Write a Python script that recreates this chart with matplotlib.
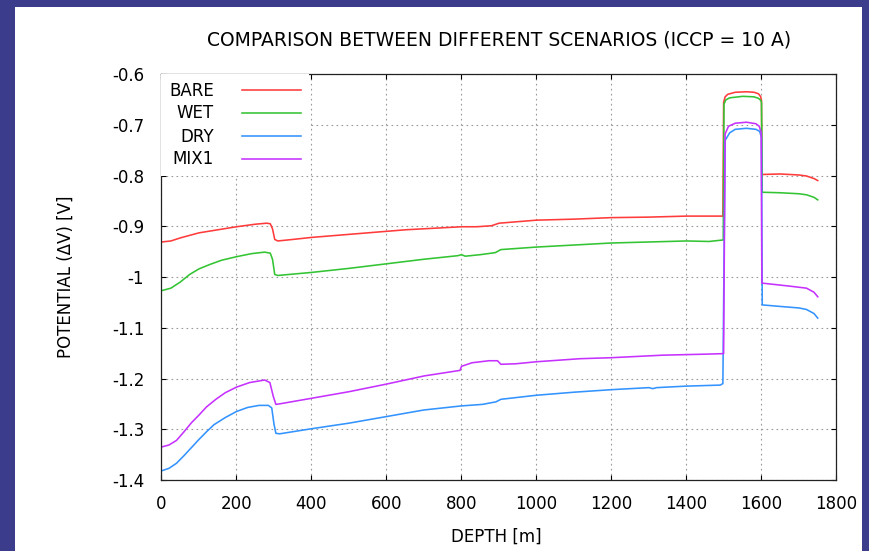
#!/usr/bin/env python3

import matplotlib
matplotlib.use("Agg")
import matplotlib.pyplot as plt
from matplotlib.patches import Rectangle
from matplotlib.ticker import FuncFormatter, MultipleLocator

# potential profiles along the well, one depth/potential pair per scenario
bare_depth = [0, 25, 50, 100, 150, 200, 250, 280, 290, 296, 302, 310, 350, 400,
              450, 500, 550, 600, 650, 700, 750, 800, 840, 880, 900, 950, 1000,
              1100, 1200, 1300, 1400, 1497, 1499, 1503, 1510, 1530, 1560, 1580,
              1592, 1598, 1600, 1601, 1650, 1700, 1720, 1740, 1750]
bare_pot = [-0.931, -0.929, -0.923, -0.913, -0.907, -0.901, -0.896, -0.894,
            -0.895, -0.905, -0.926, -0.929, -0.926, -0.922, -0.919, -0.916,
            -0.913, -0.910, -0.907, -0.905, -0.903, -0.901, -0.901, -0.899,
            -0.894, -0.891, -0.888, -0.886, -0.883, -0.882, -0.880, -0.880,
            -0.656, -0.645, -0.640, -0.636, -0.635, -0.636, -0.639, -0.645,
            -0.653, -0.798, -0.797, -0.799, -0.801, -0.806, -0.810]

wet_depth = [0, 25, 50, 75, 100, 130, 160, 200, 240, 275, 290, 296, 302, 310,
             400, 500, 600, 700, 790, 800, 810, 850, 890, 905, 1000, 1100, 1200,
             1300, 1400, 1460, 1498, 1500, 1505, 1515, 1550, 1580, 1592, 1598,
             1600, 1602, 1650, 1700, 1720, 1740, 1750]
wet_pot = [-1.027, -1.022, -1.010, -0.995, -0.984, -0.975, -0.967, -0.960,
           -0.954, -0.951, -0.953, -0.965, -0.995, -0.997, -0.991, -0.983,
           -0.974, -0.965, -0.958, -0.956, -0.959, -0.956, -0.952, -0.946,
           -0.941, -0.937, -0.933, -0.931, -0.929, -0.930, -0.927, -0.659,
           -0.651, -0.647, -0.644, -0.645, -0.648, -0.652, -0.656, -0.833,
           -0.834, -0.836, -0.838, -0.843, -0.848]

dry_depth = [0, 20, 40, 60, 80, 100, 120, 140, 170, 200, 230, 260, 285, 294,
             300, 305, 315, 400, 500, 600, 700, 800, 856, 892, 905, 1000, 1100,
             1200, 1300, 1310, 1320, 1400, 1490, 1497, 1503, 1515, 1530, 1560,
             1585, 1595, 1600, 1602, 1650, 1700, 1720, 1740, 1750]
dry_pot = [-1.382, -1.377, -1.367, -1.352, -1.336, -1.320, -1.305, -1.291,
           -1.277, -1.265, -1.257, -1.253, -1.253, -1.258, -1.290, -1.308,
           -1.309, -1.299, -1.288, -1.275, -1.262, -1.254, -1.251, -1.246,
           -1.241, -1.233, -1.227, -1.222, -1.218, -1.220, -1.218, -1.215,
           -1.213, -1.210, -0.731, -0.716, -0.709, -0.707, -0.709, -0.713,
           -0.725, -1.055, -1.058, -1.061, -1.064, -1.072, -1.081]

mix1_depth = [0, 20, 40, 60, 80, 100, 120, 145, 170, 200, 235, 275, 289, 298,
              305, 315, 400, 500, 600, 700, 796, 800, 828, 873, 896, 905, 945,
              1000, 1116, 1200, 1338, 1453, 1499, 1503, 1512, 1530, 1560, 1585,
              1594, 1599, 1601, 1675, 1720, 1740, 1750]
mix1_pot = [-1.335, -1.331, -1.322, -1.305, -1.287, -1.272, -1.256, -1.241,
            -1.228, -1.217, -1.208, -1.203, -1.208, -1.235, -1.251, -1.250,
            -1.239, -1.226, -1.211, -1.195, -1.184, -1.176, -1.169, -1.165,
            -1.165, -1.172, -1.171, -1.167, -1.161, -1.159, -1.154, -1.152,
            -1.151, -0.718, -0.703, -0.697, -0.695, -0.698, -0.703, -0.715,
            -1.012, -1.018, -1.022, -1.030, -1.039]

series = [
    ("BARE", bare_depth, bare_pot, "#ff3b3b"),
    ("WET", wet_depth, wet_pot, "#33c433"),
    ("DRY", dry_depth, dry_pot, "#3393ff"),
    ("MIX1", mix1_depth, mix1_pot, "#c631ff"),
]

slide_color = "#3c3c8c"
grid_color = "#9a9a9a"


def build_graph(output_file):
    plt.rcParams["font.family"] = ["DejaVu Sans"]
    fontsize = 12

    fig = plt.figure(figsize=(8.7, 5.51), dpi=100, facecolor=slide_color)
    # white slide panel behind the plot
    fig.patches.append(Rectangle((15 / 870, 0), 847 / 870, 1 - 7 / 551,
                                 transform=fig.transFigure, facecolor="white",
                                 edgecolor="none", zorder=-10))

    ax = fig.add_axes([161.5 / 870, 1 - 480 / 551, 675 / 870, 406 / 551])

    for name, depth, pot, color in series:
        ax.plot(depth, pot, color=color, linewidth=1.15, label=name)

    ax.set_xlim(0, 1800)
    ax.set_ylim(-1.4, -0.6)
    ax.xaxis.set_major_locator(MultipleLocator(200))
    ax.yaxis.set_major_locator(MultipleLocator(0.1))
    ax.xaxis.set_major_formatter(FuncFormatter(lambda v, _: "%g" % round(v, 2)))
    ax.yaxis.set_major_formatter(FuncFormatter(lambda v, _: "%g" % round(v, 2)))

    ax.tick_params(direction="in", top=True, right=True, length=3.6,
                   width=0.8, labelsize=fontsize)
    ax.tick_params(axis="y", pad=12.5)
    ax.tick_params(axis="x", pad=10.5)
    for spine in ax.spines.values():
        spine.set_linewidth(0.9)
        spine.set_color("#222222")

    ax.grid(True, color=grid_color, linestyle=(0, (1.5, 3)), linewidth=0.8)
    ax.set_axisbelow(True)

    ax.set_xlabel("DEPTH [m]", fontsize=fontsize)
    ax.xaxis.set_label_coords(0.496, -0.118)
    ax.set_ylabel("POTENTIAL (\u0394V) [V]", fontsize=fontsize)
    ax.yaxis.set_label_coords(-0.128, 0.5)

    fig.text(499.5 / 870, 1 - 40 / 551,
             "COMPARISON BETWEEN DIFFERENT SCENARIOS (ICCP = 10 A)",
             fontsize=13.5, ha="center", va="center")

    # gnuplot-like key: labels right aligned, sample line after the text
    leg = ax.legend(loc="upper left", bbox_to_anchor=(0, 1), borderaxespad=0,
                    markerfirst=False, frameon=True, fontsize=fontsize,
                    handlelength=3.55, handletextpad=1.7, labelspacing=0.3,
                    borderpad=0.45, fancybox=False)
    leg.get_frame().set_facecolor("white")
    leg.get_frame().set_edgecolor("none")
    leg.get_frame().set_alpha(1)

    fig.savefig(output_file, dpi=100, facecolor=fig.get_facecolor())


def main():
    build_graph("out.png")


if __name__ == "__main__":
    main()
